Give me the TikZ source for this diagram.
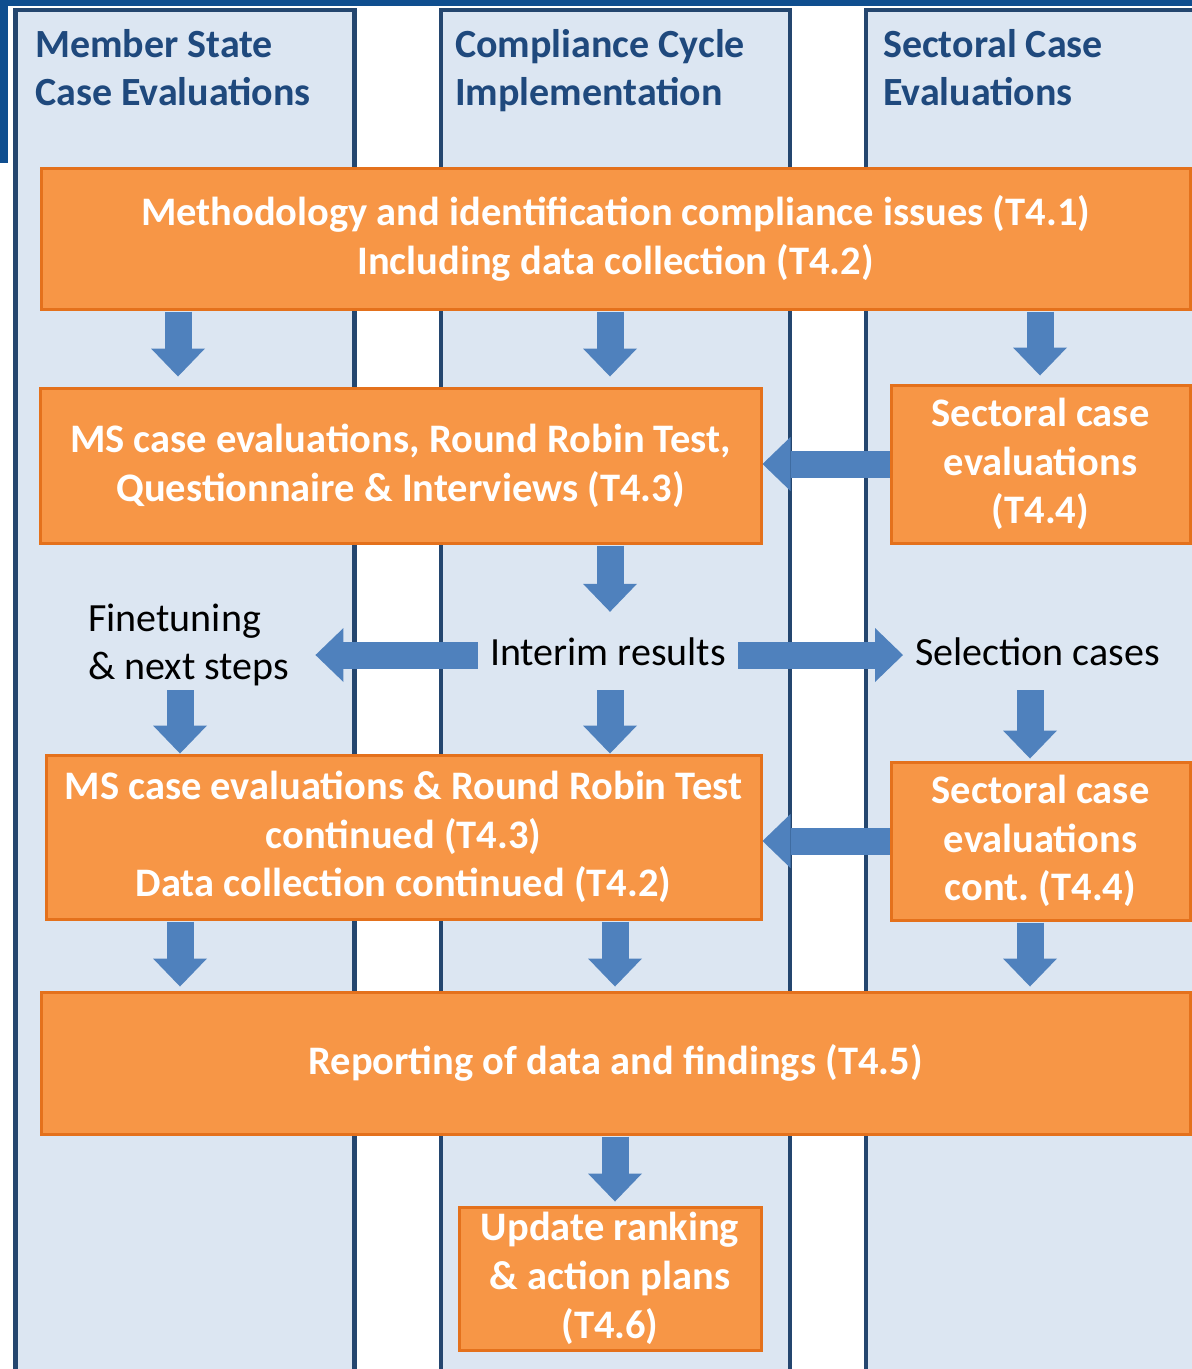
\documentclass[tikz,border=0pt]{standalone}
\usepackage{fontspec}
\setmainfont{Carlito}
\frenchspacing
\usetikzlibrary{arrows.meta,calc}
\definecolor{laneF}{HTML}{DCE6F2}
\definecolor{laneB}{HTML}{24466F}
\definecolor{band}{HTML}{0F4E8F}
\definecolor{orF}{HTML}{F79646}
\definecolor{orB}{HTML}{E4711C}
\definecolor{arr}{HTML}{4F81BD}
\definecolor{ttl}{HTML}{1F497D}
\begin{document}
\begin{tikzpicture}[x=1pt,y=-1pt,
 lane/.style={draw=laneB, fill=laneF, line width=4.5pt},
 box/.style={draw=orB, fill=orF, line width=3pt, text=white, font=\bfseries\fontsize{40.5}{48.8}\selectfont, align=center, inner sep=0pt},
 ttlstyle/.style={text=ttl, font=\bfseries\fontsize{40}{48}\selectfont, align=left, anchor=north west, inner sep=0pt},
 plain/.style={text=black, font=\fontsize{40}{48}\selectfont, inner sep=0pt},
 oneline/.style={plain, text height=29pt, text depth=9pt, inner ysep=6pt},
 barrow/.style={draw=arr, line width=27pt, -{Triangle[width=54pt,length=28pt,line width=0pt]}}]
\useasboundingbox (0,0) rectangle (1192,1369);
\clip (0,0) rectangle (1192,1369);
\fill[white] (0,0) rectangle (1192,1369);
\fill[band] (0,0) rectangle (1192,6);
\fill[band] (0,0) rectangle (8,163);
% lanes
\draw[lane] (15.5,10) rectangle (354.5,1400);
\draw[lane] (441,10) rectangle (790,1400);
\draw[lane] (866,10) rectangle (1220,1400);
\node[ttlstyle] (t1) at (35,29) {Member State\\Case Evaluations};
\node[ttlstyle] (t2) at (455,29) {Compliance Cycle\\Implementation};
\node[ttlstyle] (t3) at (883,29) {Sectoral Case\\Evaluations};
% boxes
\node[box, minimum width=1149pt, minimum height=141pt] (b1) at (615.5,238.5) {Methodology and identification compliance issues (T4.1)\\Including data collection (T4.2)};
\node[box, minimum width=721pt, minimum height=155pt] (b2) at (400.5,465.5) {MS case evaluations, Round Robin Test,\\Questionnaire \& Interviews (T4.3)};
\node[box, minimum width=299pt, minimum height=158pt] (b3) at (1040.5,464) {Sectoral case\\evaluations\\(T4.4)};
\node[box, minimum width=715pt, minimum height=164pt] (b4) at (403.5,837) {MS case evaluations \& Round Robin Test\\continued (T4.3)\\Data collection continued (T4.2)};
\node[box, minimum width=299pt, minimum height=158pt] (b5) at (1040.5,841) {Sectoral case\\evaluations\\cont. (T4.4)};
\node[box, minimum width=1149pt, minimum height=142pt] (b6) at (615.5,1063) {Reporting of data and findings (T4.5)};
\node[box, minimum width=302pt, minimum height=143pt] (b7) at (610,1278.5) {Update ranking\\\& action plans\\(T4.6)};
% plain texts
\node[oneline, inner xsep=12pt] (ir) at (608,655) {Interim results};
\node[oneline, anchor=west] (sel) at (915,655) {Selection cases};
\node[plain, align=left, anchor=north west] (fn) at (88,604) {Finetuning\\\& next steps};
% column coordinates
\coordinate (xA) at (178,0);
\coordinate (xA2) at (180,0);
\coordinate (xB) at (610,0);
\coordinate (xC) at (1040,0);
\coordinate (xD) at (615,0);
\coordinate (xE) at (1030,0);
% arrows
\draw[barrow, shorten <=1pt, shorten >=10pt] (b1.south -| xA) -- (b2.north -| xA);
\draw[barrow, shorten <=1pt, shorten >=10pt] (b1.south -| xB) -- (b2.north -| xB);
\draw[barrow, shorten <=1pt, shorten >=8pt] (b1.south -| xC) -- (b3.north -| xC);
\draw[barrow] (b3.west) -- (b3.west -| b2.east);
\draw[barrow, shorten <=1pt, shorten >=18pt] (b2.south -| xB) -- (ir.north -| xB);
\draw[barrow, shorten >=26pt] (ir.west) -- (ir.west -| fn.east);
\draw[barrow, shorten >=12pt] (ir.east) -- (ir.east -| sel.west);
\draw[barrow, shorten <=4pt] (fn.south -| xA2) -- (b4.north -| xA2);
\draw[barrow, shorten <=10pt] (ir.south -| xB) -- (b4.north -| xB);
\draw[barrow, shorten <=10pt, shorten >=2pt] (sel.south -| xE) -- (b5.north -| xE);
\draw[barrow] (b5.west) -- (b5.west -| b4.east);
\draw[barrow, shorten <=1pt, shorten >=4pt] (b4.south -| xA2) -- (b6.north -| xA2);
\draw[barrow, shorten <=1pt, shorten >=4pt] (b4.south -| xD) -- (b6.north -| xD);
\draw[barrow, shorten <=1pt, shorten >=4pt] (b5.south -| xE) -- (b6.north -| xE);
\draw[barrow, shorten <=1pt, shorten >=4pt] (b6.south -| xD) -- (b7.north -| xD);
\end{tikzpicture}
\end{document}
